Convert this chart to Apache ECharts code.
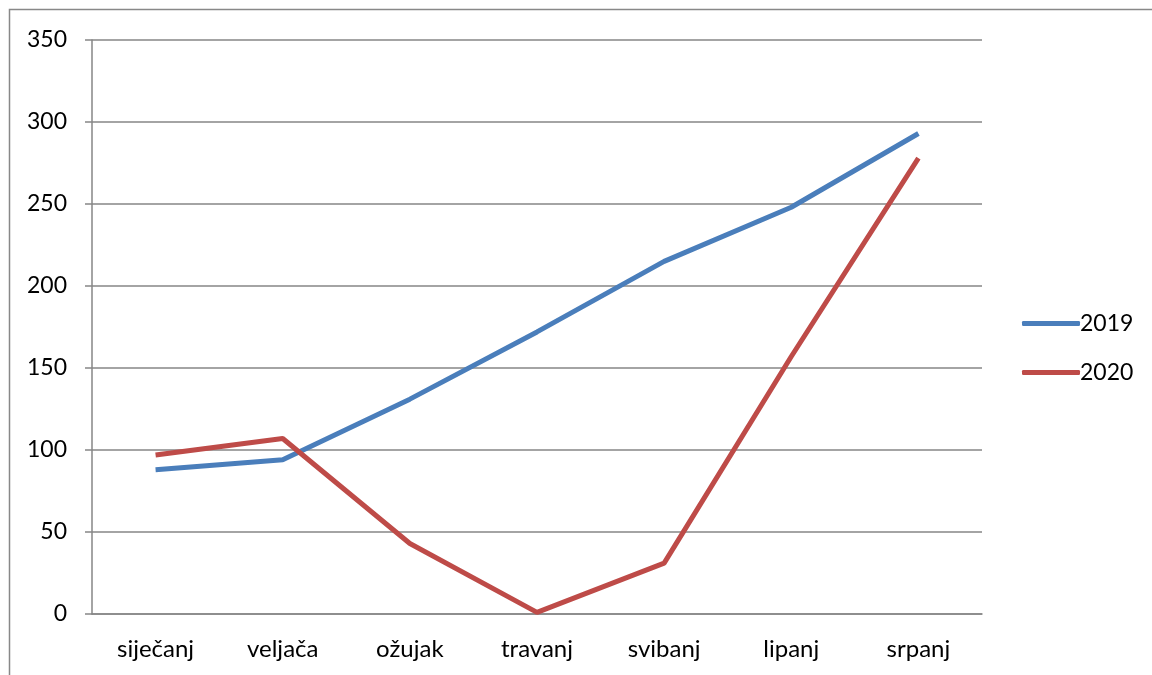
<!DOCTYPE html>
<html>
<head>
<meta charset="utf-8">
<script src="https://cdn.jsdelivr.net/npm/echarts@6/dist/echarts.min.js"></script>
<style>
  html, body { margin: 0; padding: 0; background: #fff; }
  #chart { width: 1152px; height: 675px; }
</style>
</head>
<body>
<div id="chart"></div>
<script>
// mjeseci
const months = ['siječanj', 'veljača', 'ožujak', 'travanj', 'svibanj', 'lipanj', 'srpanj'];
const values2019 = [88, 94, 131, 172, 215, 248, 293];
const values2020 = [97, 107, 43, 1, 31, 157, 278];
const yTicks = [0, 50, 100, 150, 200, 250, 300, 350];

const font = 'Lato, "Open Sans", sans-serif';
const gridColor = '#868686';

let myChart = echarts.init(document.getElementById('chart'));
let option = {
  animation: false,
  textStyle: { fontFamily: font },
  grid: { left: 92, top: 40, right: 170, bottom: 61 },
  graphic: [{
    type: 'rect',
    shape: { x: 9.5, y: 9.5, width: 1200, height: 700 },
    style: { fill: 'none', stroke: '#888', lineWidth: 1.5 },
    silent: true
  }],
  legend: {
    orient: 'vertical',
    left: 1017,
    top: 307,
    itemWidth: 58,
    itemHeight: 5,
    itemGap: 26,
    icon: 'roundRect',
    textStyle: { fontFamily: font, fontSize: 23, color: '#000', padding: [0, 0, 0, -5] },
    data: ['2019', '2020']
  },
  xAxis: {
    type: 'category',
    data: months,
    boundaryGap: true,
    axisLine: { lineStyle: { color: gridColor, width: 1.5 } },
    axisTick: { length: 8, lineStyle: { color: gridColor, width: 1.5 } },
    axisLabel: { color: '#000', fontSize: 24, margin: 23, fontFamily: font }
  },
  yAxis: {
    type: 'value',
    min: yTicks[0],
    max: yTicks[yTicks.length - 1],
    interval: 50,
    axisLine: { show: true, lineStyle: { color: gridColor, width: 1.5 } },
    axisTick: { show: true, length: 7, lineStyle: { color: gridColor, width: 1.5 } },
    axisLabel: { color: '#000', fontSize: 23, margin: 25, fontFamily: font },
    splitLine: { lineStyle: { color: gridColor, width: 1.5 } }
  },
  series: [{
    name: '2019',
    type: 'line',
    data: values2019,
    symbol: 'none',
    color: '#4a7ebb',
    lineStyle: { width: 5, color: '#4a7ebb' }
  }, {
    name: '2020',
    type: 'line',
    data: values2020,
    symbol: 'none',
    color: '#be4b48',
    lineStyle: { width: 5, color: '#be4b48' }
  }]
};
myChart.setOption(option);
</script>
</body>
</html>
